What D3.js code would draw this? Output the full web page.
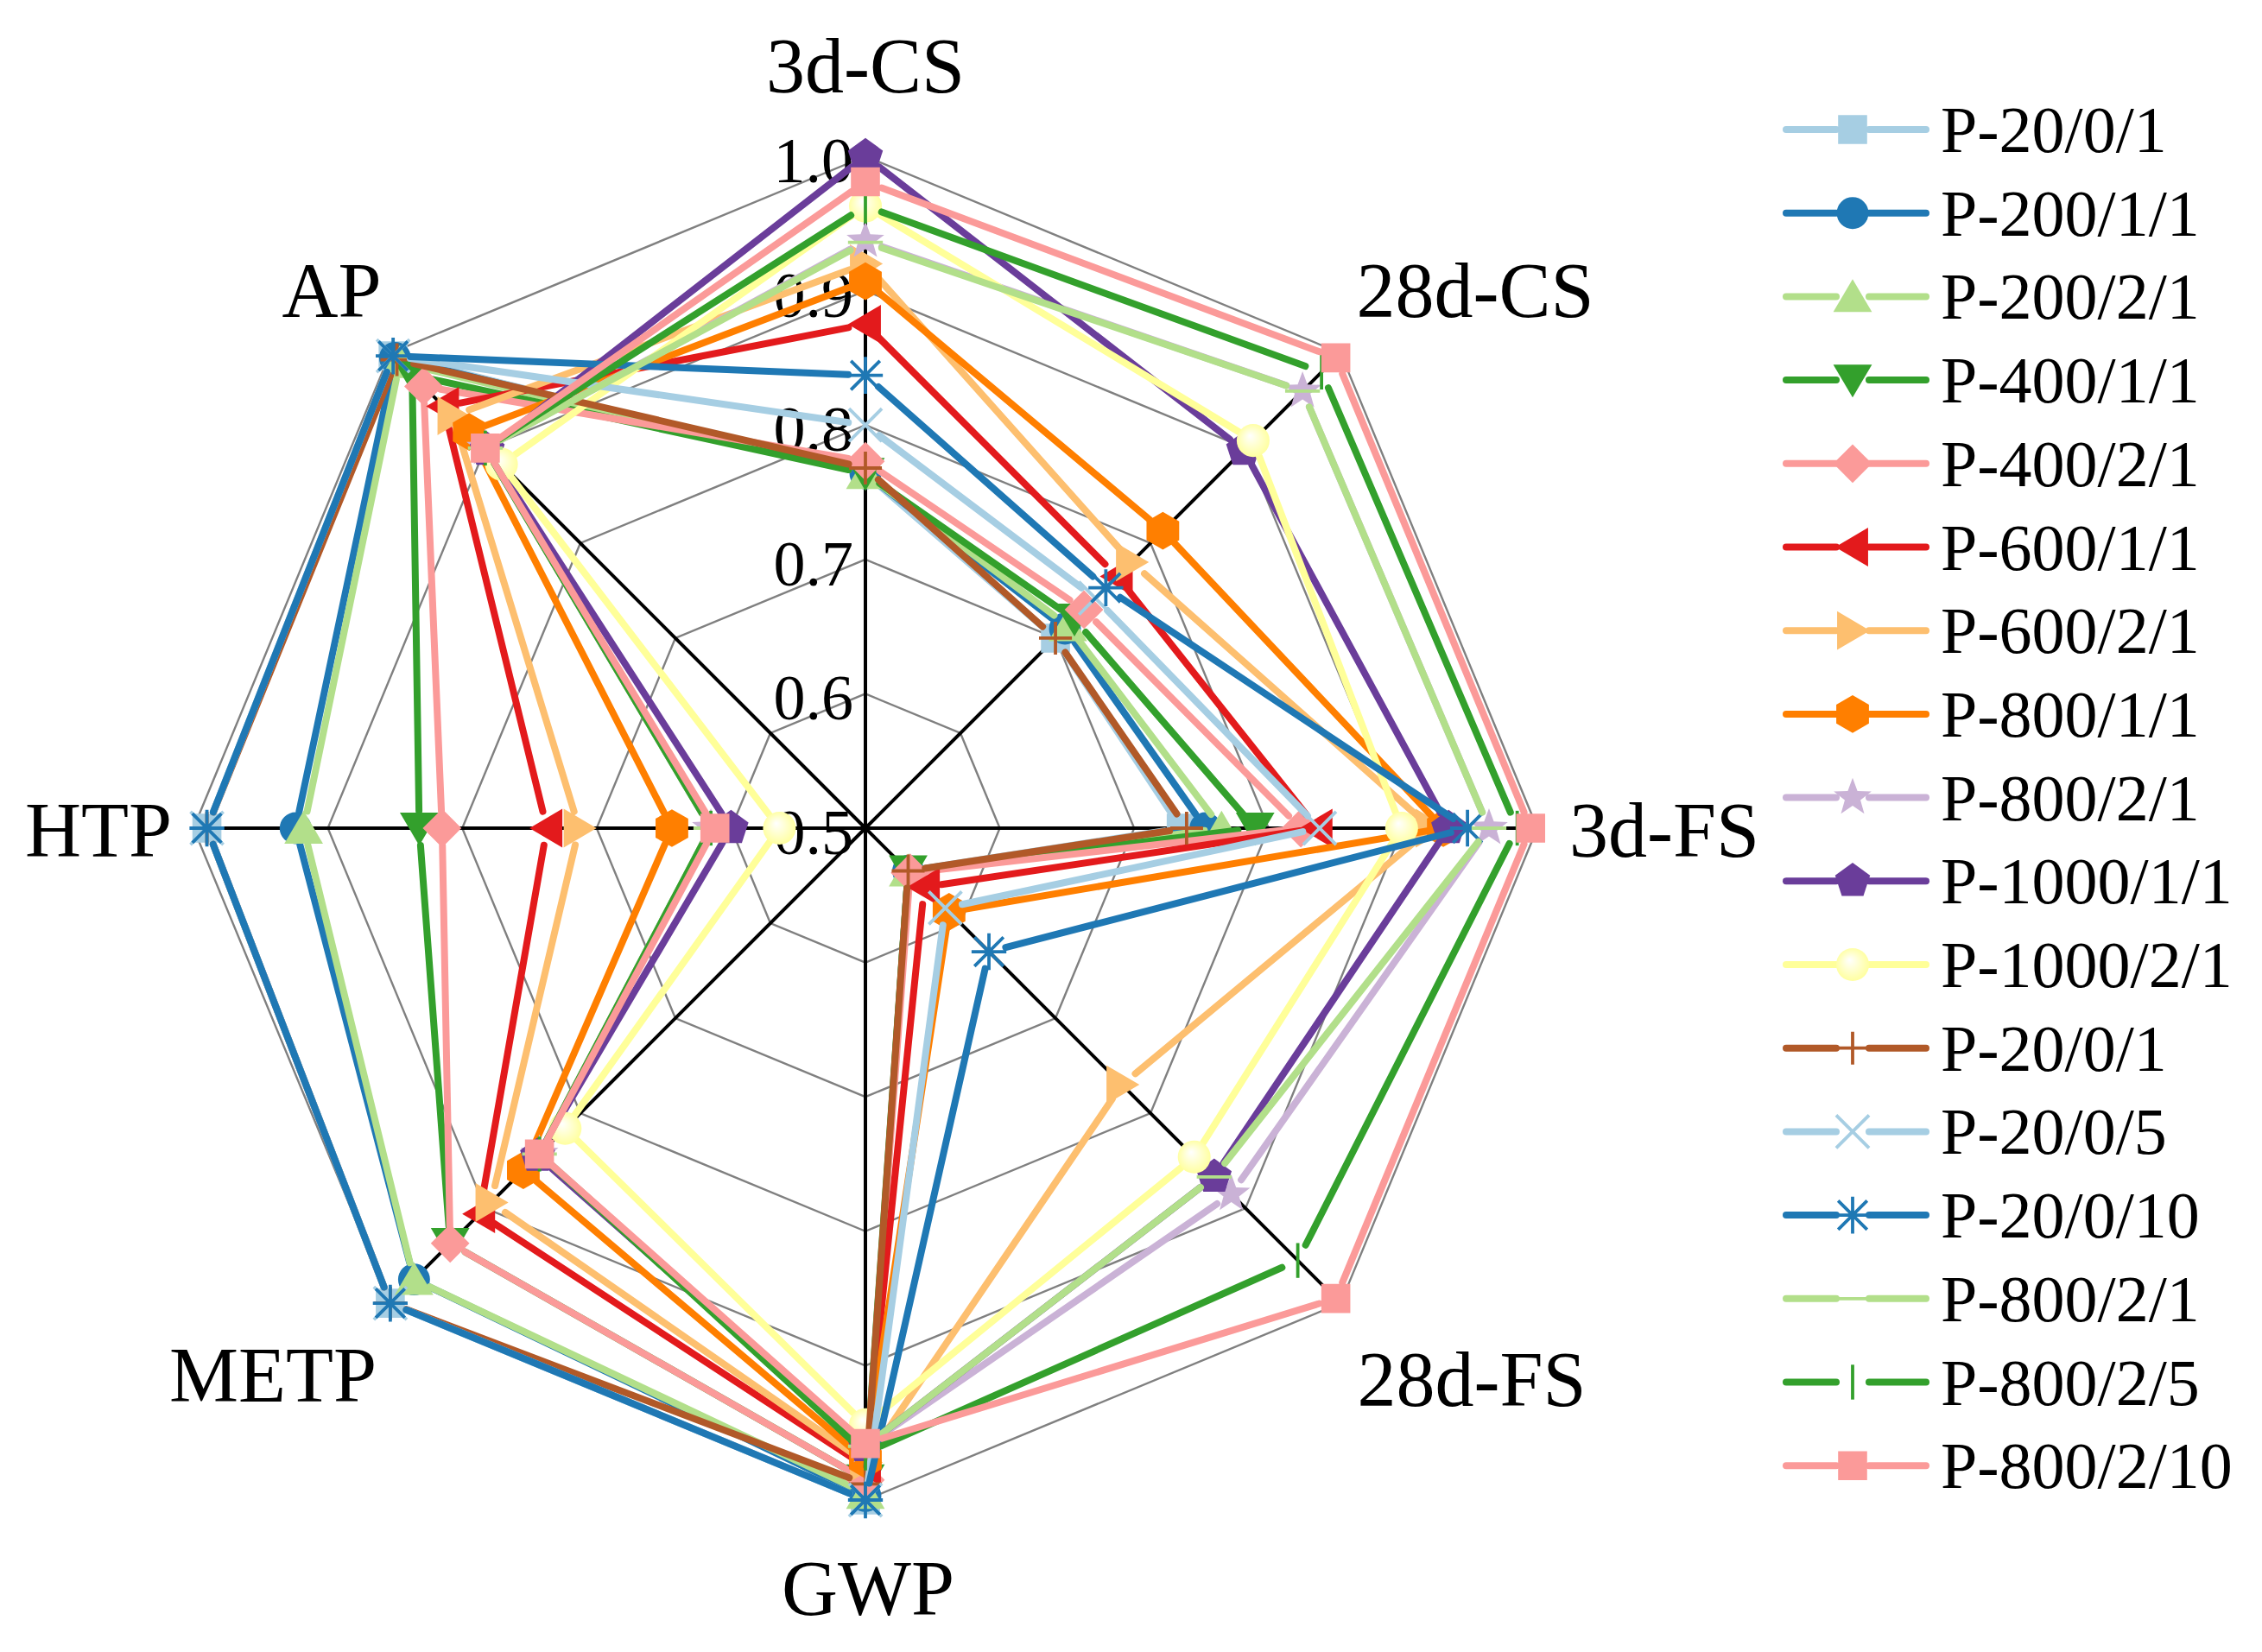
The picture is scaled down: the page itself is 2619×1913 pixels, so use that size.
<!DOCTYPE html>
<html><head><meta charset="utf-8">
<script src="https://cdn.jsdelivr.net/npm/d3@7"></script>
<style>body{margin:0;background:#fff}svg{display:block}</style>
</head><body><svg id="c" width="2619" height="1913"></svg>
<script>
// ---------- data ----------
const axes = ["3d-CS","28d-CS","3d-FS","28d-FS","GWP","METP","HTP","AP"];
const gridLevels = [0.6,0.7,0.8,0.9,1.0];
const tickValues = [0.5,0.6,0.7,0.8,0.9,1.0];
const tickLabels = ["0.5","0.6","0.7","0.8","0.9","1.0"];
const seriesNames = ["P-20/0/1","P-200/1/1","P-200/2/1","P-400/1/1","P-400/2/1","P-600/1/1","P-600/2/1","P-800/1/1","P-800/2/1","P-1000/1/1","P-1000/2/1","P-20/0/1","P-20/0/5","P-20/0/10","P-800/2/1","P-800/2/5","P-800/2/10"];
const seriesColors = ["#a6cee3","#1f78b4","#b2df8a","#33a02c","#fb9a99","#e31a1c","#fdbf6f","#ff7f00","#cab2d6","#6a3d9a","#ffff99","#b15928","#a6cee3","#1f78b4","#b2df8a","#33a02c","#fb9a99"];
const seriesMarkers = ["square","circle","triUp","triDown","diamond","triLeft","triRight","hexagon","star","pentagon","circleGrad","plus","x","asterisk","hline","vline","square"];
// values in axis order: 3d-CS, 28d-CS, 3d-FS, 28d-FS, GWP, METP, HTP, AP
const vP20_0_1a  = [0.764,0.700,0.735,0.545,1.000,1.000,0.990,0.997];
const vP200_1_1  = [0.764,0.710,0.753,0.545,0.997,0.975,0.924,0.995];
const vP200_2_1  = [0.764,0.713,0.765,0.545,0.995,0.975,0.918,0.990];
const vP400_1_1  = [0.764,0.720,0.790,0.545,0.985,0.937,0.832,0.977];
const vP400_2_1  = [0.773,0.730,0.824,0.547,0.985,0.937,0.815,0.965];
const vP600_1_1  = [0.875,0.765,0.836,0.562,0.975,0.906,0.737,0.944];
const vP600_2_1  = [0.920,0.780,0.921,0.770,0.972,0.894,0.713,0.934];
const vP800_1_1  = [0.907,0.813,0.930,0.588,0.970,0.860,0.644,0.917];
const vP800_2_1a = [0.937,0.960,0.964,0.885,0.960,0.843,0.615,0.900];
const vP1000_1_1 = [1.000,0.898,0.934,0.867,0.960,0.845,0.600,0.898];
const vP1000_2_1 = [0.963,0.908,0.899,0.846,0.944,0.816,0.564,0.883];
const vP20_0_1b  = [0.768,0.700,0.739,0.545,0.988,1.000,0.990,0.993];
const vP20_0_5   = [0.800,0.742,0.838,0.584,1.000,1.000,0.990,0.997];
const vP20_0_10  = [0.837,0.753,0.948,0.630,1.000,1.000,0.990,0.997];
const vP800_2_1b = [0.936,0.960,0.964,0.867,0.960,0.843,0.615,0.900];
const vP800_2_5  = [0.963,0.980,0.985,0.955,0.965,0.843,0.615,0.900];
const vP800_2_10 = [0.981,0.995,0.995,0.995,0.958,0.843,0.612,0.900];
const seriesValues = [vP20_0_1a,vP200_1_1,vP200_2_1,vP400_1_1,vP400_2_1,vP600_1_1,vP600_2_1,vP800_1_1,vP800_2_1a,vP1000_1_1,vP1000_2_1,vP20_0_1b,vP20_0_5,vP20_0_10,vP800_2_1b,vP800_2_5,vP800_2_10];

// ---------- layout ----------
const cx = 1002, cy = 959, R = 778;
const FONT = "'Liberation Serif','Times New Roman',serif";
const rScale = d3.scaleLinear().domain([0.5,1.0]).range([0,R]);
const aScale = d3.scaleLinear().domain([0,axes.length]).range([0,2*Math.PI]);
function pt(i,v){const a=aScale(i), rr=rScale(v); return [cx+rr*Math.sin(a), cy-rr*Math.cos(a)];}

const svg = d3.select("#c");
svg.append("rect").attr("width",2619).attr("height",1913).attr("fill","#fff");
const defs = svg.append("defs");
const g = defs.append("radialGradient").attr("id","yg").attr("cx","0.5").attr("cy","0.5").attr("r","0.55").attr("fx","0.4").attr("fy","0.35");
g.append("stop").attr("offset","0%").attr("stop-color","#ffffff");
g.append("stop").attr("offset","30%").attr("stop-color","#ffffe0");
g.append("stop").attr("offset","100%").attr("stop-color","#ffff99");

// grid
const gridG = svg.append("g");
gridLevels.forEach(lv=>{
  const pts = axes.map((_,i)=>pt(i,lv));
  gridG.append("path").attr("d", d3.line().curve(d3.curveLinearClosed)(pts))
    .attr("fill","none").attr("stroke","#808080").attr("stroke-width",2.4);
});
axes.forEach((_,i)=>{
  const p = pt(i,1.0);
  gridG.append("line").attr("x1",cx).attr("y1",cy).attr("x2",p[0]).attr("y2",p[1])
    .attr("stroke","#000").attr("stroke-width",4);
});
// tick labels
tickValues.forEach((tv,k)=>{
  svg.append("text").attr("x",988).attr("y",cy-rScale(tv)+30)
    .attr("text-anchor","end").attr("font-family",FONT).attr("font-size",74).attr("fill","#000")
    .text(tickLabels[k]);
});
// axis labels
const axisLabelPos = [[1002,107],[1708,367],[1927,992],[1704,1628],[1005,1870],[316,1623],[114,992],[384,367]];
axes.forEach((a,i)=>{
  svg.append("text").attr("x",axisLabelPos[i][0]).attr("y",axisLabelPos[i][1])
    .attr("text-anchor","middle").attr("font-family",FONT).attr("font-size",90).attr("fill","#000").text(a);
});

// markers
const MS = 1.12;
function markerD(t){
  const P = pts => 'M'+pts.map(p=>(p[0]*MS).toFixed(2)+','+(p[1]*MS).toFixed(2)).join('L')+'Z';
  const poly=(n,rad)=>d3.range(n).map(k=>{const a=k*2*Math.PI/n;return [rad*Math.sin(a), -rad*Math.cos(a)];});
  const c = rr => { const q=rr*MS; return `M${q},0A${q},${q} 0 1,1 ${-q},0A${q},${q} 0 1,1 ${q},0Z`; };
  const s = v => (v*MS).toFixed(2);
  switch(t){
    case 'square': return P([[-15,-15],[15,-15],[15,15],[-15,15]]);
    case 'circle': return c(16.5);
    case 'circleGrad': return c(17);
    case 'triUp': return P([[0,-18],[20,16],[-20,16]]);
    case 'triDown': return P([[0,18],[20,-16],[-20,-16]]);
    case 'triLeft': return P([[-18,0],[16,-20],[16,20]]);
    case 'triRight': return P([[18,0],[-16,-20],[-16,20]]);
    case 'diamond': return P([[0,-20],[20,0],[0,20],[-20,0]]);
    case 'hexagon': return P(poly(6,19.5));
    case 'pentagon': return P(poly(5,19));
    case 'star': return P(d3.range(10).map(k=>{const a=k*Math.PI/5; const rr=k%2?8.5:20.5; return [rr*Math.sin(a), -rr*Math.cos(a)];}));
    case 'plus': return `M${s(-17)},0H${s(17)}M0,${s(-17)}V${s(17)}`;
    case 'x': return `M${s(-17)},${s(-17)}L${s(17)},${s(17)}M${s(-17)},${s(17)}L${s(17)},${s(-17)}`;
    case 'asterisk': return `M${s(-18)},0H${s(18)}M0,${s(-19)}V${s(19)}M${s(-15)},${s(-15)}L${s(15)},${s(15)}M${s(-15)},${s(15)}L${s(15)},${s(-15)}`;
    case 'hline': return `M${s(-18)},0H${s(18)}`;
    case 'vline': return `M0,${s(-18)}V${s(18)}`;
  }
}
const strokeMarkers = new Set(['plus','x','asterisk','hline','vline']);
function drawMarker(sel, t, color, x, y){
  const path = sel.append("path").attr("d", markerD(t)).attr("transform",`translate(${x},${y})`);
  if(strokeMarkers.has(t)) path.attr("fill","none").attr("stroke",color).attr("stroke-width",3.8).attr("stroke-linecap","butt");
  else path.attr("fill", t==='circleGrad' ? "url(#yg)" : color).attr("stroke","none");
}

// series
const GAP = 20;
const serG = svg.append("g");
seriesValues.forEach((vals,si)=>{
  const color = seriesColors[si];
  const gs = serG.append("g");
  const pts = vals.map((v,i)=>pt(i,v));
  for(let i=0;i<pts.length;i++){
    const a = pts[i], b = pts[(i+1)%pts.length];
    const dx=b[0]-a[0], dy=b[1]-a[1], L=Math.hypot(dx,dy);
    if(L <= 2*GAP+1) continue;
    const ux=dx/L, uy=dy/L;
    gs.append("line").attr("x1",a[0]+ux*GAP).attr("y1",a[1]+uy*GAP)
      .attr("x2",b[0]-ux*GAP).attr("y2",b[1]-uy*GAP)
      .attr("stroke",color).attr("stroke-width",8).attr("stroke-linecap","round");
  }
  pts.forEach(p=>drawMarker(gs, seriesMarkers[si], color, p[0], p[1]));
});

// legend
const legG = svg.append("g");
const legY0 = 150, legStep = 96.7;
seriesNames.forEach((n,si)=>{
  const y = legY0 + si*legStep, color = seriesColors[si];
  legG.append("line").attr("x1",2068).attr("x2",2126).attr("y1",y).attr("y2",y)
    .attr("stroke",color).attr("stroke-width",8).attr("stroke-linecap","round");
  legG.append("line").attr("x1",2164).attr("x2",2230).attr("y1",y).attr("y2",y)
    .attr("stroke",color).attr("stroke-width",8).attr("stroke-linecap","round");
  drawMarker(legG, seriesMarkers[si], color, 2145, y);
  legG.append("text").attr("x",2247).attr("y",y+26).attr("font-family",FONT).attr("font-size",76).attr("fill","#000").text(n);
});
</script></body></html>
